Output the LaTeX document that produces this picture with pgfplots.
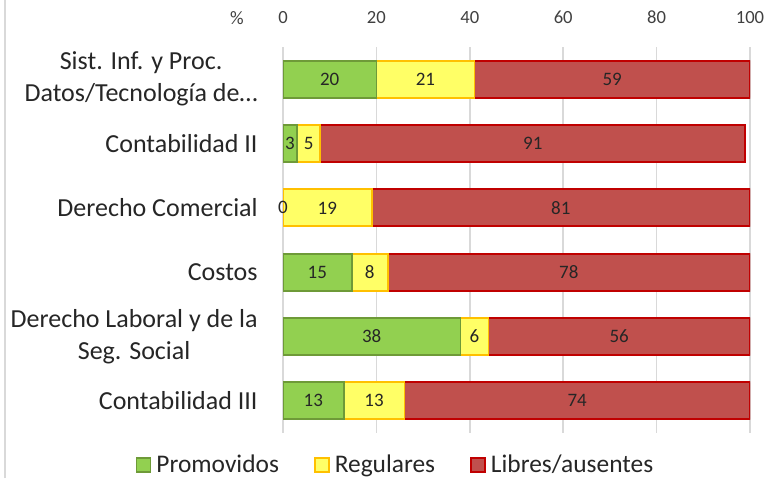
\documentclass[border=0pt]{standalone}
\usepackage{pgfplots}
\pgfplotsset{compat=1.18}
\usepackage{fontspec}
\setmainfont{Carlito}
\definecolor{gfill}{HTML}{92D050}
\definecolor{gedge}{HTML}{6E9A38}
\definecolor{yfill}{HTML}{FFFF66}
\definecolor{yedge}{HTML}{FFC000}
\definecolor{rfill}{HTML}{C0504D}
\definecolor{redge}{HTML}{C00000}
\definecolor{txt}{HTML}{262626}
\definecolor{tick}{HTML}{404040}
\pgfkeys{/pgf/number format/assume math mode=true}
\pgfplotsset{sqlegend/.style={legend image code/.code={\draw[##1,/tikz/.cd,line width=0.9pt] (0pt,-3.5pt) rectangle (7pt,3.5pt);}},
  samegeom/.style={at={(141.5pt,22.5pt)}, anchor=south west,
  scale only axis, width=233.5pt, height=193pt,
  xmin=0, xmax=100, ymin=-0.5, ymax=5.5, y dir=reverse}}
\begin{document}
\begin{tikzpicture}
\path[use as bounding box] (0,0) rectangle (390pt,239pt);
\draw[black!15, line width=1.2pt] (2.5pt,0) -- (2.5pt,239pt);
\begin{axis}[
  samegeom,
  xbar stacked, bar width=0.575,
  xtick={0,20,...,100}, xticklabel pos=upper,
  xticklabel style={font=\fontsize{9.3}{11}\selectfont, text=tick, inner sep=0pt, anchor=south},
  xticklabel shift=11.5pt,
  ytick={0,...,5},
  yticklabels={{Sist. Inf. y Proc.\\Datos/Tecnología de…},{Contabilidad II},{Derecho Comercial},{Costos},{Derecho Laboral y de la\\Seg. Social},{Contabilidad III}},
  yticklabel style={font=\fontsize{13}{16}\selectfont, text=txt, align=center, inner sep=0pt, anchor=east, xshift=-12.5pt},
  axis line style={draw=none}, major tick length=0pt,
  xmajorgrids, grid style={black!15, line width=0.8pt},
  point meta=rawx,
  nodes near coords={\pgfmathprintnumber[fixed,precision=0]{\pgfplotspointmeta}},
  every node near coord/.append style={anchor=center, font=\fontsize{9.5}{11}\selectfont, text=txt},
  legend columns=-1,
  legend style={at={(0.244,-0.083)}, anchor=center, draw=none, fill=none,
    font=\fontsize{12.7}{15}\selectfont, text=txt,
    /tikz/every even column/.append style={column sep=15pt},
    nodes={inner xsep=2.5pt}},
]
\addplot[fill=gfill, draw=gedge, line width=0.9pt, sqlegend]
  coordinates {(20,0) (3,1) (0,2) (14.7,3) (38,4) (13,5)};
\addplot[fill=yfill, draw=yedge, line width=0.9pt, sqlegend]
  coordinates {(21,0) (5,1) (19,2) (7.7,3) (6,4) (13,5)};
\addplot[fill=rfill, draw=redge, line width=0.9pt, sqlegend]
  coordinates {(59,0) (91,1) (81,2) (77.6,3) (56,4) (74,5)};
\legend{Promovidos, Regulares, Libres/ausentes}
\end{axis}
\begin{axis}[samegeom, hide axis, clip=false]
\addplot[draw=none, mark=none, nodes near coords, point meta=explicit symbolic,
  every node near coord/.style={anchor=center, font=\fontsize{9.5}{11}\selectfont, text=txt}]
  coordinates {(0,2) [0]};
\end{axis}
\node[font=\fontsize{9.5}{11}\selectfont, text=tick] at (118.5pt,230pt) {\%};
\end{tikzpicture}
\end{document}
